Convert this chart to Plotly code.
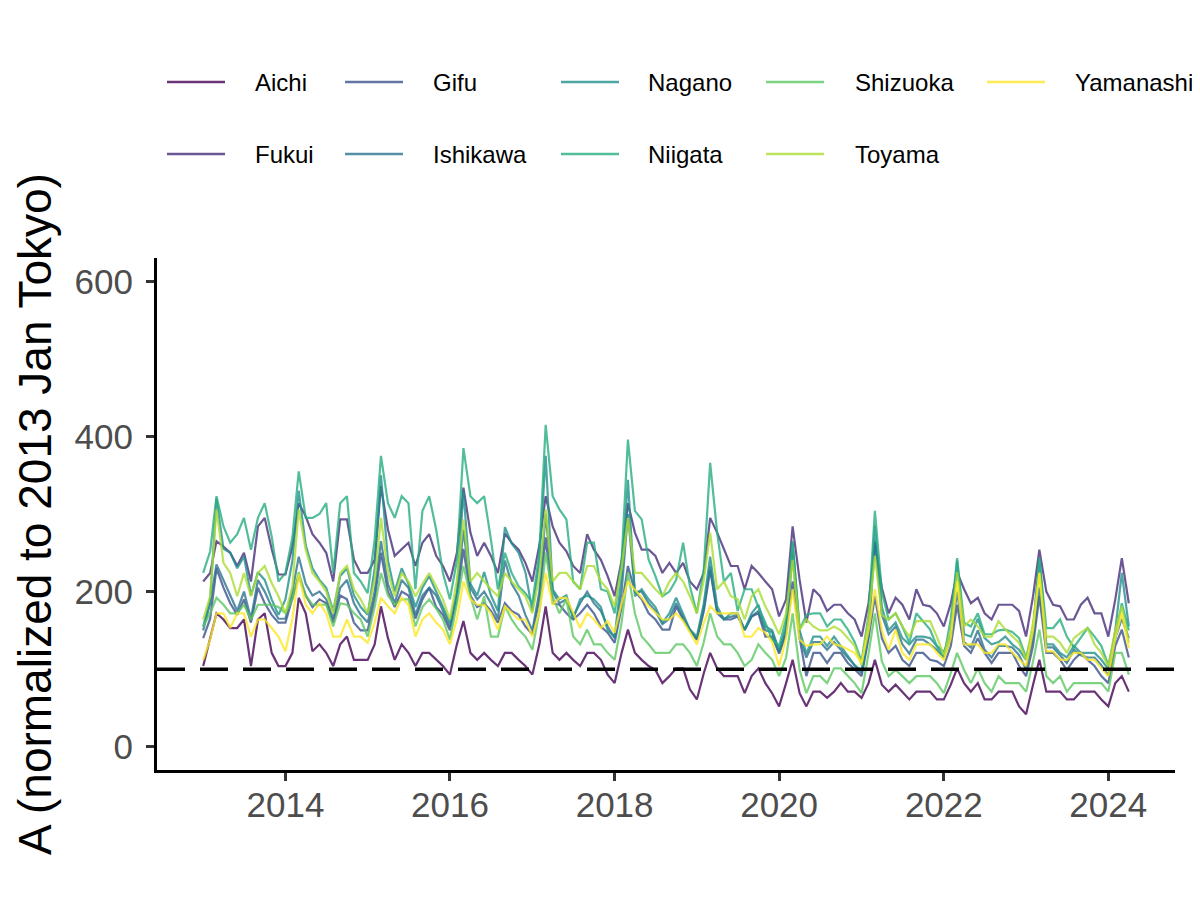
import pandas as pd
import plotly.graph_objects as go

# ---------------- data (monthly, Jan 2013 .. Apr 2024) ----------------
start_month = "2013-01-01"
n_months = 136

prefectures = ["Aichi", "Fukui", "Gifu", "Ishikawa", "Nagano",
               "Niigata", "Shizuoka", "Toyama", "Yamanashi"]

aichi = [
    104, 138, 172, 164, 153, 153, 164, 104, 164, 172, 121, 104,
    104, 121, 192, 172, 123, 132, 121, 104, 132, 142, 112, 112,
    112, 132, 181, 140, 112, 132, 121, 104, 121, 121, 112, 104,
    93, 132, 162, 121, 112, 121, 112, 104, 121, 121, 112, 104,
    93, 132, 181, 121, 112, 121, 112, 104, 121, 121, 112, 93,
    82, 121, 151, 121, 112, 104, 99, 82, 91, 101, 101, 74,
    61, 95, 121, 101, 91, 91, 91, 69, 91, 101, 82, 69,
    52, 82, 112, 69, 52, 71, 71, 63, 71, 82, 71, 71,
    63, 82, 112, 80, 71, 80, 71, 61, 71, 71, 71, 61,
    61, 80, 101, 82, 71, 82, 61, 61, 71, 71, 71, 52,
    42, 80, 112, 71, 71, 71, 61, 61, 71, 71, 71, 61,
    52, 82, 91, 71]

fukui = [
    213, 224, 265, 258, 250, 233, 250, 213, 284, 295, 255, 222,
    222, 258, 314, 297, 274, 263, 250, 213, 293, 293, 241, 224,
    224, 241, 336, 280, 246, 254, 263, 233, 263, 274, 246, 233,
    213, 250, 334, 276, 246, 263, 246, 224, 275, 263, 254, 237,
    213, 260, 323, 284, 263, 252, 233, 224, 274, 254, 241, 220,
    194, 240, 314, 276, 254, 254, 246, 224, 237, 224, 237, 213,
    203, 224, 295, 276, 254, 233, 233, 203, 233, 224, 213, 203,
    168, 190, 284, 215, 160, 203, 194, 175, 183, 183, 172, 164,
    142, 185, 263, 205, 172, 192, 183, 164, 203, 183, 181, 172,
    155, 185, 225, 203, 185, 192, 172, 164, 183, 183, 183, 175,
    142, 194, 254, 200, 183, 181, 164, 164, 183, 192, 172, 172,
    142, 190, 243, 185]

gifu = [
    140, 165, 230, 205, 185, 170, 190, 160, 205, 185, 170, 160,
    160, 190, 220, 195, 180, 190, 185, 160, 195, 190, 160, 150,
    150, 190, 250, 200, 180, 200, 195, 165, 190, 205, 180, 170,
    150, 190, 255, 195, 180, 185, 175, 160, 185, 175, 170, 155,
    145, 190, 270, 185, 183, 172, 164, 172, 183, 172, 155, 147,
    134, 180, 233, 200, 190, 172, 164, 151, 151, 181, 164, 151,
    138, 175, 228, 172, 164, 164, 168, 151, 168, 172, 142, 142,
    120, 145, 213, 140, 91, 121, 121, 108, 121, 121, 108, 100,
    91, 140, 194, 140, 121, 130, 112, 104, 121, 121, 112, 110,
    104, 130, 183, 130, 121, 140, 121, 108, 121, 121, 121, 104,
    91, 130, 194, 121, 121, 112, 99, 112, 121, 112, 104, 91,
    82, 130, 151, 115]

ishikawa = [
    150, 185, 235, 215, 195, 175, 200, 165, 215, 200, 180, 165,
    165, 200, 245, 210, 195, 200, 190, 165, 205, 215, 185, 170,
    160, 200, 265, 210, 185, 215, 205, 170, 195, 205, 195, 175,
    155, 195, 280, 205, 190, 200, 185, 165, 240, 210, 195, 170,
    150, 200, 300, 200, 185, 190, 168, 185, 200, 185, 175, 155,
    140, 200, 300, 200, 200, 185, 175, 158, 165, 185, 168, 150,
    138, 180, 233, 175, 165, 168, 170, 150, 168, 175, 150, 148,
    122, 150, 250, 140, 115, 135, 135, 125, 135, 125, 115, 105,
    95, 145, 265, 170, 145, 155, 132, 120, 138, 138, 132, 125,
    115, 140, 200, 135, 128, 150, 125, 115, 130, 130, 128, 118,
    100, 140, 205, 128, 128, 118, 108, 125, 118, 115, 115, 105,
    92, 140, 165, 140]

nagano = [
    155, 190, 320, 255, 250, 230, 245, 195, 225, 215, 190, 170,
    190, 240, 330, 260, 230, 215, 205, 175, 220, 230, 195, 180,
    170, 230, 350, 240, 200, 230, 210, 180, 205, 220, 200, 180,
    160, 200, 330, 210, 195, 225, 195, 175, 283, 262, 250, 225,
    175, 240, 375, 203, 190, 195, 165, 190, 195, 190, 180, 150,
    142, 220, 344, 194, 203, 190, 180, 160, 172, 192, 172, 151,
    142, 185, 245, 181, 164, 172, 172, 151, 172, 183, 155, 150,
    125, 155, 265, 150, 120, 142, 142, 130, 142, 130, 118, 105,
    98, 150, 285, 180, 150, 160, 140, 132, 142, 142, 140, 130,
    122, 145, 240, 145, 142, 165, 140, 132, 135, 142, 132, 125,
    112, 150, 243, 132, 132, 121, 115, 130, 121, 121, 121, 112,
    100, 150, 224, 155]

niigata = [
    224, 252, 323, 284, 263, 274, 295, 254, 295, 314, 271, 213,
    224, 270, 355, 295, 295, 300, 314, 224, 314, 323, 224, 213,
    198, 267, 375, 314, 295, 323, 314, 203, 304, 323, 280, 224,
    190, 240, 385, 323, 314, 323, 267, 203, 250, 224, 207, 198,
    185, 250, 415, 323, 306, 293, 213, 203, 263, 263, 203, 200,
    172, 240, 396, 304, 293, 241, 220, 194, 200, 215, 263, 207,
    172, 230, 366, 276, 213, 224, 175, 203, 203, 180, 160, 138,
    130, 165, 263, 151, 170, 172, 172, 155, 164, 164, 151, 135,
    110, 170, 304, 200, 164, 172, 155, 134, 172, 162, 151, 130,
    115, 165, 243, 160, 155, 172, 145, 145, 150, 151, 148, 140,
    115, 150, 243, 153, 153, 164, 142, 128, 140, 153, 142, 130,
    105, 140, 185, 150]

shizuoka = [
    155, 172, 192, 183, 172, 172, 183, 164, 183, 183, 183, 180,
    172, 190, 225, 195, 183, 183, 183, 155, 185, 183, 172, 164,
    142, 180, 224, 195, 183, 190, 190, 155, 180, 190, 178, 164,
    138, 185, 233, 194, 164, 194, 142, 142, 181, 164, 151, 142,
    125, 175, 250, 194, 172, 190, 142, 132, 151, 132, 132, 121,
    112, 160, 225, 172, 142, 132, 121, 121, 121, 132, 132, 121,
    104, 135, 172, 142, 132, 132, 121, 104, 112, 132, 121, 112,
    91, 115, 172, 99, 69, 91, 91, 82, 101, 101, 91, 82,
    69, 120, 172, 110, 91, 99, 91, 82, 91, 91, 91, 82,
    69, 95, 121, 99, 82, 101, 82, 71, 91, 82, 82, 82,
    71, 110, 151, 91, 82, 91, 71, 82, 82, 82, 82, 82,
    71, 121, 121, 93]

toyama = [
    164, 194, 306, 237, 224, 194, 224, 194, 224, 233, 211, 194,
    172, 207, 306, 254, 224, 213, 200, 172, 224, 233, 203, 190,
    172, 215, 295, 225, 194, 224, 213, 194, 210, 224, 207, 190,
    164, 215, 293, 213, 224, 213, 203, 194, 224, 213, 203, 194,
    172, 220, 306, 213, 224, 224, 213, 203, 233, 233, 213, 203,
    181, 230, 295, 224, 224, 213, 203, 194, 213, 224, 213, 194,
    172, 215, 276, 203, 213, 194, 190, 164, 194, 203, 181, 164,
    145, 172, 241, 151, 164, 155, 150, 150, 155, 150, 140, 130,
    105, 165, 246, 170, 164, 172, 155, 142, 162, 162, 162, 142,
    118, 150, 225, 155, 164, 155, 142, 142, 162, 151, 142, 134,
    112, 160, 224, 142, 142, 134, 121, 140, 147, 153, 132, 121,
    104, 150, 181, 134]

yamanashi = [
    112, 138, 172, 172, 153, 172, 172, 142, 164, 164, 153, 142,
    123, 165, 222, 183, 172, 185, 172, 142, 142, 164, 142, 142,
    134, 160, 192, 181, 172, 192, 183, 142, 164, 172, 160, 151,
    132, 165, 213, 190, 183, 183, 172, 151, 181, 172, 164, 164,
    142, 175, 224, 183, 192, 192, 172, 153, 172, 164, 153, 162,
    147, 185, 213, 203, 192, 181, 172, 164, 164, 172, 162, 147,
    132, 160, 181, 172, 172, 172, 172, 142, 142, 153, 147, 135,
    104, 140, 203, 138, 130, 132, 132, 142, 132, 130, 125, 121,
    108, 150, 203, 150, 125, 151, 121, 112, 132, 132, 132, 121,
    112, 140, 213, 132, 132, 132, 121, 121, 132, 132, 121, 112,
    104, 150, 224, 123, 123, 112, 112, 121, 121, 112, 112, 101,
    91, 140, 172, 127]

reference_level = 100
y_ticks = [0, 200, 400, 600]
x_tick_years = ["2014", "2016", "2018", "2020", "2022", "2024"]

series = [aichi, fukui, gifu, ishikawa, nagano, niigata, shizuoka, toyama, yamanashi]

# ---------------- styling ----------------
colors = ["#440154", "#472D7B", "#3B528B", "#2C728E", "#21908C",
          "#27AD81", "#5DC863", "#AADC32", "#FDE725"]
line_alpha = 0.8

# page body has an 8px margin: lay out in figure pixels = screen pixels - 8
OFF = 8
W, H = 1192, 892
M_L, M_T = 157 - OFF, 258 - OFF
M_R = W - (1175 - OFF)
M_B = H - (770 - OFF)
PW, PH = W - M_L - M_R, H - M_T - M_B

def px_x(p):
    return (p - OFF - M_L) / PW

def px_y(p):
    return (H - M_B - (p - OFF)) / PH

def rgba(hexc, a):
    h = hexc.lstrip("#")
    return "rgba(%d,%d,%d,%.2f)" % (int(h[0:2], 16), int(h[2:4], 16), int(h[4:6], 16), a)

months = pd.date_range(start_month, periods=n_months, freq="MS")

fig = go.Figure()
for name, vals, col in zip(prefectures, series, colors):
    assert len(vals) == n_months, (name, len(vals))
    fig.add_trace(go.Scatter(
        x=months, y=vals, mode="lines", name=name, showlegend=False,
        line=dict(color=rgba(col, line_alpha), width=2.2),
        hovertemplate=name + ": %{y}<extra></extra>"))

# dashed reference line
fig.add_hline(y=reference_level, line=dict(color="black", width=3.5, dash="28px,15px"))

# manual legend (ggplot-like, column-major, 5 columns x 2 rows)
leg_key_x = [167, 345, 561, 766, 987]
leg_text_x = [253, 431, 646, 853, 1073]
leg_row_y = [82, 154]
key_len = 58
annotations = []
for i, (name, col) in enumerate(zip(prefectures, colors)):
    c, r = i // 2, i % 2
    y = px_y(leg_row_y[r])
    fig.add_shape(type="line", xref="paper", yref="paper",
                  x0=px_x(leg_key_x[c]), x1=px_x(leg_key_x[c] + key_len),
                  y0=y, y1=y, line=dict(color=rgba(col, line_alpha), width=2.5))
    annotations.append(dict(xref="paper", yref="paper", x=px_x(leg_text_x[c]), y=y,
                            text=name, showarrow=False, xanchor="left", yanchor="middle",
                            font=dict(size=24, color="black", family="Liberation Sans")))

tick_font = dict(size=35, color="#4D4D4D", family="Liberation Sans")

fig.update_layout(
    width=W, height=H,
    margin=dict(l=M_L, r=M_R, t=M_T, b=M_B),
    paper_bgcolor="white", plot_bgcolor="white",
    font=dict(family="Liberation Sans", color="black"),
    annotations=annotations,
    showlegend=False,
)
fig.update_xaxes(
    type="date",
    range=["2012-06-10", "2024-10-23"],
    tickvals=[y + "-01-01" for y in x_tick_years],
    ticktext=x_tick_years,
    showgrid=False, zeroline=False,
    showline=True, linecolor="black", linewidth=3,
    ticks="outside", ticklen=8, tickwidth=3, tickcolor="#333333",
    tickfont=tick_font, automargin=False, ticklabelstandoff=-6,
)
fig.update_yaxes(
    range=[-30, 630],
    tickvals=y_ticks,
    showgrid=False, zeroline=False,
    showline=True, linecolor="black", linewidth=3,
    ticks="outside", ticklen=8, tickwidth=3, tickcolor="#333333",
    tickfont=tick_font, automargin=False, ticklabelstandoff=6,
    title=dict(text="A (normalized to 2013 Jan Tokyo)",
               font=dict(size=46, color="black", family="Liberation Sans"),
               standoff=9),
)

fig.write_html("out.html")
